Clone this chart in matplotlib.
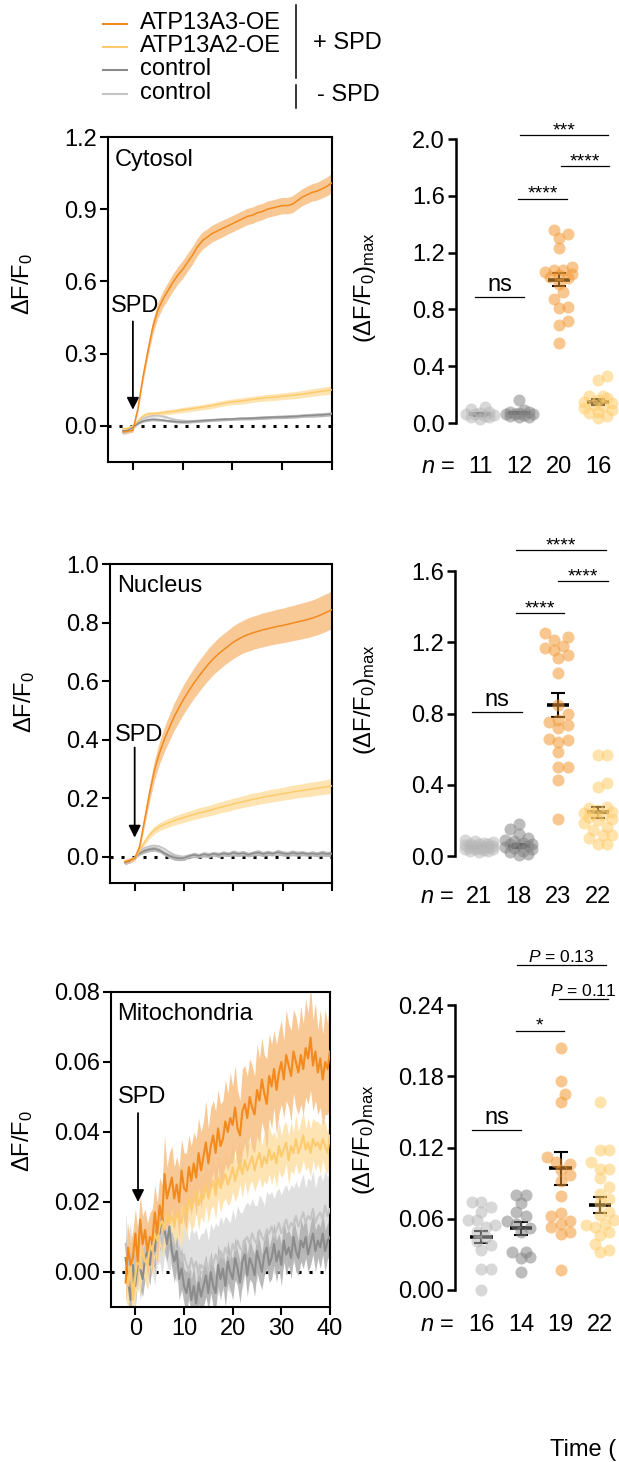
import numpy as np
import matplotlib
matplotlib.use("Agg")
import matplotlib.pyplot as plt
from matplotlib.ticker import FormatStrFormatter
from matplotlib.transforms import blended_transform_factory

plt.rcParams['font.family'] = ['Liberation Sans', 'DejaVu Sans']
plt.rcParams['mathtext.fontset'] = 'custom'
plt.rcParams['mathtext.rm'] = 'Liberation Sans'
plt.rcParams['mathtext.it'] = 'Liberation Sans:italic'
plt.rcParams['font.size'] = 17

# ---------------------------------------------------------------- data
labels = ['ATP13A3-OE', 'ATP13A2-OE', 'control', 'control']

# time courses, cytosol and nucleus sampled every 1 (t = -2 .. 40)
cyto_a3 = [-0.025, -0.022, -0.018, 0.07, 0.20, 0.31, 0.41, 0.48, 0.525, 0.56,
           0.595, 0.625, 0.65, 0.68, 0.71, 0.745, 0.77, 0.785, 0.80, 0.81,
           0.82, 0.83, 0.84, 0.85, 0.86, 0.87, 0.875, 0.885, 0.89, 0.90,
           0.905, 0.91, 0.915, 0.915, 0.92, 0.935, 0.95, 0.96, 0.97, 0.975,
           0.985, 0.995, 1.01]
cyto_a3_sem = [0.008, 0.008, 0.008, 0.012, 0.020, 0.025, 0.030, 0.032, 0.034, 0.035,
               0.036, 0.036, 0.037, 0.037, 0.037, 0.036, 0.036, 0.035, 0.035, 0.035,
               0.035, 0.034, 0.034, 0.034, 0.034, 0.034, 0.034, 0.034, 0.034, 0.034,
               0.034, 0.034, 0.034, 0.034, 0.035, 0.035, 0.035, 0.036, 0.036, 0.037,
               0.038, 0.039, 0.040]
cyto_a2 = [-0.012, -0.010, 0.000, 0.020, 0.040, 0.050, 0.050, 0.052, 0.055, 0.057,
           0.060, 0.063, 0.066, 0.069, 0.072, 0.075, 0.078, 0.081, 0.085, 0.089,
           0.093, 0.097, 0.100, 0.102, 0.104, 0.107, 0.110, 0.113, 0.115, 0.117,
           0.119, 0.121, 0.123, 0.125, 0.127, 0.129, 0.132, 0.135, 0.138, 0.141,
           0.144, 0.147, 0.150]
cyto_a2_sem = [0.006, 0.006, 0.006, 0.007, 0.008, 0.009, 0.009, 0.009, 0.010, 0.010,
               0.010, 0.010, 0.011, 0.011, 0.011, 0.011, 0.011, 0.012, 0.012, 0.012,
               0.012, 0.012, 0.012, 0.013, 0.013, 0.013, 0.013, 0.013, 0.013, 0.014,
               0.014, 0.014, 0.014, 0.014, 0.015, 0.015, 0.015, 0.015, 0.016, 0.016,
               0.016, 0.017, 0.017]
cyto_ctl = [-0.020, -0.018, -0.005, 0.010, 0.020, 0.025, 0.027, 0.026, 0.024, 0.021,
            0.019, 0.017, 0.016, 0.017, 0.019, 0.020, 0.022, 0.023, 0.025, 0.026,
            0.027, 0.028, 0.029, 0.030, 0.031, 0.031, 0.032, 0.033, 0.034, 0.035,
            0.036, 0.037, 0.037, 0.038, 0.039, 0.040, 0.042, 0.043, 0.044, 0.045,
            0.046, 0.048, 0.049]
cyto_ctl_sem = [0.006, 0.006, 0.005, 0.005, 0.005, 0.006, 0.006, 0.006, 0.005, 0.005,
                0.005, 0.005, 0.005, 0.006, 0.006, 0.006, 0.006, 0.006, 0.006, 0.006,
                0.006, 0.006, 0.006, 0.006, 0.006, 0.006, 0.007, 0.007, 0.007, 0.007,
                0.007, 0.007, 0.007, 0.007, 0.007, 0.007, 0.007, 0.007, 0.008, 0.008,
                0.008, 0.008, 0.008]
cyto_ctl0 = [-0.030, -0.025, -0.006, 0.015, 0.030, 0.038, 0.042, 0.043, 0.040, 0.034,
             0.028, 0.024, 0.022, 0.021, 0.021, 0.022, 0.023, 0.024, 0.025, 0.026,
             0.027, 0.028, 0.029, 0.030, 0.031, 0.032, 0.033, 0.034, 0.035, 0.036,
             0.037, 0.038, 0.039, 0.040, 0.041, 0.042, 0.043, 0.045, 0.046, 0.047,
             0.048, 0.050, 0.052]
cyto_ctl0_sem = [0.007, 0.007, 0.006, 0.006, 0.006, 0.006, 0.006, 0.006, 0.006, 0.006,
                 0.006, 0.006, 0.006, 0.006, 0.006, 0.006, 0.006, 0.006, 0.006, 0.006,
                 0.006, 0.006, 0.006, 0.006, 0.006, 0.006, 0.006, 0.006, 0.006, 0.006,
                 0.006, 0.006, 0.006, 0.006, 0.007, 0.007, 0.007, 0.007, 0.007, 0.007,
                 0.007, 0.007, 0.007]

nuc_a3 = [-0.018, -0.012, -0.006, 0.034, 0.125, 0.215, 0.295, 0.353, 0.400, 0.440,
          0.478, 0.510, 0.540, 0.567, 0.593, 0.616, 0.638, 0.659, 0.677, 0.693,
          0.707, 0.720, 0.733, 0.743, 0.752, 0.759, 0.765, 0.770, 0.775, 0.779,
          0.783, 0.787, 0.790, 0.794, 0.798, 0.802, 0.806, 0.810, 0.815, 0.821,
          0.828, 0.836, 0.844]
nuc_a3_sem = [0.008, 0.008, 0.008, 0.012, 0.020, 0.028, 0.034, 0.038, 0.042, 0.045,
              0.047, 0.049, 0.050, 0.051, 0.052, 0.053, 0.053, 0.054, 0.054, 0.055,
              0.055, 0.055, 0.056, 0.056, 0.056, 0.057, 0.057, 0.057, 0.058, 0.058,
              0.058, 0.059, 0.059, 0.060, 0.060, 0.061, 0.061, 0.062, 0.062, 0.063,
              0.064, 0.064, 0.065]
nuc_a2 = [-0.015, -0.012, -0.005, 0.020, 0.050, 0.074, 0.091, 0.102, 0.110, 0.117,
          0.123, 0.129, 0.134, 0.139, 0.144, 0.149, 0.153, 0.157, 0.162, 0.167,
          0.171, 0.175, 0.180, 0.184, 0.188, 0.192, 0.196, 0.199, 0.203, 0.206,
          0.209, 0.212, 0.215, 0.218, 0.221, 0.224, 0.226, 0.229, 0.231, 0.234,
          0.236, 0.239, 0.242]
nuc_a2_sem = [0.006, 0.006, 0.006, 0.008, 0.010, 0.012, 0.013, 0.014, 0.015, 0.015,
              0.016, 0.016, 0.017, 0.017, 0.017, 0.018, 0.018, 0.018, 0.019, 0.019,
              0.019, 0.020, 0.020, 0.020, 0.020, 0.021, 0.021, 0.021, 0.021, 0.022,
              0.022, 0.022, 0.022, 0.023, 0.023, 0.023, 0.023, 0.024, 0.024, 0.024,
              0.024, 0.025, 0.025]
nuc_ctl = [-0.020, -0.015, -0.003, 0.012, 0.020, 0.025, 0.027, 0.022, 0.012, 0.003,
           -0.003, -0.006, -0.004, 0.002, 0.006, 0.003, 0.008, 0.005, 0.010, 0.006,
           0.011, 0.008, 0.013, 0.009, 0.012, 0.007, 0.011, 0.014, 0.009, 0.013,
           0.010, 0.015, 0.011, 0.009, 0.013, 0.010, 0.012, 0.009, 0.011, 0.008,
           0.012, 0.009, 0.011]
nuc_ctl_sem = [0.007, 0.007, 0.007, 0.007, 0.008, 0.008, 0.008, 0.008, 0.008, 0.008,
               0.009, 0.008, 0.009, 0.008, 0.009, 0.008, 0.009, 0.009, 0.008, 0.009,
               0.009, 0.008, 0.010, 0.009, 0.009, 0.008, 0.009, 0.010, 0.009, 0.009,
               0.008, 0.010, 0.009, 0.009, 0.010, 0.009, 0.009, 0.008, 0.009, 0.009,
               0.010, 0.009, 0.009]
nuc_ctl0 = [-0.022, -0.015, -0.002, 0.018, 0.030, 0.036, 0.038, 0.035, 0.027, 0.016,
            0.007, 0.002, 0.000, 0.001, 0.002, 0.004, 0.005, 0.006, 0.006, 0.007,
            0.006, 0.007, 0.008, 0.007, 0.008, 0.009, 0.008, 0.009, 0.008, 0.009,
            0.010, 0.009, 0.010, 0.009, 0.010, 0.011, 0.010, 0.009, 0.010, 0.011,
            0.010, 0.011, 0.010]
nuc_ctl0_sem = [0.006, 0.006, 0.005, 0.005, 0.005, 0.005, 0.005, 0.005, 0.005, 0.005,
                0.005, 0.005, 0.005, 0.005, 0.005, 0.005, 0.005, 0.005, 0.005, 0.005,
                0.005, 0.005, 0.005, 0.005, 0.005, 0.005, 0.005, 0.005, 0.005, 0.005,
                0.005, 0.005, 0.005, 0.005, 0.005, 0.005, 0.005, 0.005, 0.005, 0.005,
                0.005, 0.005, 0.005]

# mitochondria sampled every 0.5 (t = -2 .. 40)
mito_a3 = [-0.003, 0.007, 0.002, 0.004, 0.011, 0.003, 0.015, 0.008, 0.012, 0.006,
           0.010, 0.009, 0.017, 0.011, 0.019, 0.015, 0.028, 0.021, 0.024, 0.027,
           0.021, 0.025, 0.020, 0.029, 0.024, 0.023, 0.030, 0.026, 0.031, 0.027,
           0.034, 0.029, 0.033, 0.037, 0.031, 0.036, 0.039, 0.034, 0.041, 0.036,
           0.038, 0.043, 0.040, 0.044, 0.042, 0.047, 0.041, 0.039, 0.046, 0.048,
           0.044, 0.050, 0.047, 0.045, 0.052, 0.049, 0.055, 0.051, 0.048, 0.056,
           0.053, 0.058, 0.052, 0.057, 0.060, 0.055, 0.062, 0.059, 0.056, 0.063,
           0.060, 0.057, 0.062, 0.058, 0.064, 0.061, 0.067, 0.059, 0.063, 0.057,
           0.061, 0.055, 0.060, 0.058, 0.063]
mito_a3_sem = [0.006, 0.007, 0.006, 0.008, 0.007, 0.009, 0.007, 0.008, 0.006, 0.008,
               0.007, 0.009, 0.008, 0.009, 0.008, 0.010, 0.011, 0.009, 0.010, 0.009,
               0.009, 0.008, 0.010, 0.009, 0.010, 0.011, 0.009, 0.010, 0.009, 0.011,
               0.010, 0.011, 0.010, 0.012, 0.010, 0.011, 0.010, 0.012, 0.011, 0.012,
               0.011, 0.012, 0.011, 0.013, 0.011, 0.012, 0.011, 0.010, 0.012, 0.011,
               0.012, 0.011, 0.012, 0.011, 0.013, 0.012, 0.012, 0.011, 0.013, 0.012,
               0.012, 0.011, 0.013, 0.012, 0.012, 0.011, 0.013, 0.012, 0.013, 0.012,
               0.013, 0.012, 0.014, 0.013, 0.014, 0.013, 0.015, 0.013, 0.014, 0.012,
               0.014, 0.013, 0.015, 0.013, 0.016]
mito_a2 = [0.001, -0.004, 0.003, -0.008, -0.001, 0.004, 0.001, 0.006, 0.003, 0.002,
           0.008, 0.006, 0.011, 0.009, 0.013, 0.015, 0.012, 0.017, 0.014, 0.016,
           0.013, 0.017, 0.015, 0.014, 0.019, 0.016, 0.021, 0.018, 0.020, 0.023,
           0.019, 0.022, 0.021, 0.025, 0.021, 0.024, 0.026, 0.022, 0.027, 0.024,
           0.026, 0.028, 0.025, 0.027, 0.030, 0.026, 0.029, 0.031, 0.028, 0.032,
           0.029, 0.031, 0.033, 0.029, 0.032, 0.034, 0.030, 0.033, 0.031, 0.035,
           0.032, 0.034, 0.031, 0.036, 0.033, 0.035, 0.037, 0.032, 0.036, 0.034,
           0.038, 0.034, 0.036, 0.039, 0.035, 0.037, 0.034, 0.038, 0.036, 0.037,
           0.035, 0.038, 0.036, 0.034, 0.039]
mito_a2_sem = [0.008, 0.007, 0.008, 0.009, 0.007, 0.006, 0.007, 0.006, 0.006, 0.007,
               0.006, 0.007, 0.006, 0.007, 0.006, 0.007, 0.006, 0.007, 0.006, 0.007,
               0.006, 0.007, 0.006, 0.007, 0.006, 0.007, 0.006, 0.006, 0.007, 0.006,
               0.007, 0.006, 0.007, 0.006, 0.007, 0.006, 0.007, 0.007, 0.006, 0.007,
               0.006, 0.007, 0.006, 0.007, 0.007, 0.006, 0.007, 0.006, 0.007, 0.006,
               0.007, 0.006, 0.007, 0.006, 0.007, 0.007, 0.006, 0.007, 0.006, 0.007,
               0.007, 0.006, 0.007, 0.007, 0.006, 0.007, 0.006, 0.007, 0.007, 0.006,
               0.007, 0.006, 0.007, 0.007, 0.006, 0.007, 0.007, 0.006, 0.007, 0.006,
               0.007, 0.006, 0.007, 0.006, 0.007]
mito_ctl = [0.004, -0.002, -0.008, 0.002, -0.004, 0.003, 0.001, -0.002, 0.004, 0.006,
            0.002, 0.009, 0.006, 0.014, 0.011, 0.016, 0.012, 0.008, 0.013, 0.006,
            0.003, 0.006, -0.002, 0.001, -0.004, -0.006, -0.002, -0.008, -0.004, -0.009,
            -0.003, -0.007, -0.004, -0.001, -0.006, 0.000, -0.004, -0.006, 0.002, -0.002,
            0.001, -0.004, 0.003, 0.000, -0.002, 0.004, 0.001, -0.003, 0.003, 0.005,
            -0.001, 0.004, 0.002, -0.001, 0.006, 0.003, 0.000, 0.005, 0.007, 0.002,
            0.004, 0.008, 0.003, 0.006, 0.002, 0.009, 0.005, 0.007, 0.004, 0.010,
            0.006, 0.004, 0.009, 0.007, 0.010, 0.005, 0.008, 0.011, 0.006, 0.009,
            0.007, 0.011, 0.006, 0.009, 0.010]
mito_ctl_sem = [0.007, 0.006, 0.007, 0.006, 0.006, 0.005, 0.006, 0.005, 0.006, 0.005,
                0.006, 0.005, 0.006, 0.006, 0.005, 0.006, 0.006, 0.005, 0.006, 0.005,
                0.006, 0.005, 0.006, 0.006, 0.005, 0.006, 0.005, 0.006, 0.006, 0.005,
                0.006, 0.005, 0.006, 0.006, 0.005, 0.006, 0.006, 0.005, 0.006, 0.006,
                0.005, 0.006, 0.006, 0.005, 0.006, 0.006, 0.005, 0.006, 0.006, 0.005,
                0.006, 0.006, 0.005, 0.006, 0.006, 0.006, 0.005, 0.006, 0.006, 0.005,
                0.006, 0.006, 0.006, 0.005, 0.006, 0.006, 0.006, 0.005, 0.006, 0.006,
                0.006, 0.005, 0.006, 0.006, 0.006, 0.005, 0.006, 0.006, 0.006, 0.005,
                0.006, 0.006, 0.006, 0.005, 0.006]
mito_ctl0 = [0.008, 0.002, 0.005, -0.003, 0.004, 0.006, 0.001, 0.003, 0.007, 0.004,
             0.006, 0.009, 0.005, 0.010, 0.012, 0.008, 0.013, 0.011, 0.009, 0.011,
             0.008, 0.006, 0.007, 0.003, 0.005, 0.002, 0.000, 0.004, 0.001, 0.003,
             -0.001, 0.002, 0.001, 0.003, 0.000, 0.004, 0.002, 0.005, 0.003, 0.006,
             0.004, 0.007, 0.005, 0.004, 0.008, 0.006, 0.009, 0.007, 0.006, 0.009,
             0.010, 0.008, 0.011, 0.009, 0.008, 0.012, 0.010, 0.009, 0.012, 0.011,
             0.013, 0.010, 0.012, 0.014, 0.011, 0.013, 0.015, 0.012, 0.014, 0.013,
             0.016, 0.013, 0.015, 0.017, 0.014, 0.016, 0.015, 0.018, 0.014, 0.016,
             0.017, 0.015, 0.019, 0.016, 0.018]
mito_ctl0_sem = [0.009, 0.008, 0.009, 0.008, 0.009, 0.008, 0.009, 0.008, 0.009, 0.009,
                 0.008, 0.009, 0.009, 0.008, 0.009, 0.009, 0.008, 0.009, 0.009, 0.008,
                 0.009, 0.009, 0.008, 0.009, 0.009, 0.010, 0.009, 0.009, 0.010, 0.009,
                 0.010, 0.009, 0.010, 0.010, 0.009, 0.010, 0.010, 0.009, 0.010, 0.010,
                 0.010, 0.009, 0.010, 0.010, 0.010, 0.009, 0.010, 0.010, 0.011, 0.010,
                 0.010, 0.011, 0.010, 0.010, 0.011, 0.010, 0.011, 0.010, 0.011, 0.011,
                 0.010, 0.011, 0.011, 0.010, 0.011, 0.011, 0.010, 0.011, 0.011, 0.011,
                 0.010, 0.011, 0.011, 0.011, 0.010, 0.011, 0.011, 0.011, 0.010, 0.011,
                 0.011, 0.011, 0.010, 0.011, 0.011]

# peak responses, groups: control -SPD, control +SPD, ATP13A3-OE, ATP13A2-OE
cyto_pts = [
    [0.11, 0.10, 0.08, 0.07, 0.065, 0.06, 0.055, 0.05, 0.045, 0.04, 0.025],
    [0.16, 0.09, 0.08, 0.075, 0.07, 0.065, 0.06, 0.06, 0.055, 0.05, 0.045, 0.04],
    [1.36, 1.33, 1.30, 1.23, 1.10, 1.08, 1.08, 1.06, 1.05, 1.04, 1.03, 1.02,
     0.98, 0.92, 0.87, 0.82, 0.81, 0.72, 0.69, 0.56],
    [0.33, 0.305, 0.19, 0.19, 0.175, 0.165, 0.15, 0.14, 0.13, 0.12, 0.105,
     0.095, 0.08, 0.07, 0.05, 0.035],
]
cyto_mean = [0.06, 0.07, 1.01, 0.15]
cyto_sem = [0.008, 0.01, 0.045, 0.022]
cyto_n = [11, 12, 20, 16]

nuc_pts = [
    [0.09, 0.085, 0.08, 0.075, 0.07, 0.068, 0.065, 0.06, 0.058, 0.055, 0.052,
     0.05, 0.048, 0.045, 0.042, 0.04, 0.037, 0.034, 0.03, 0.026, 0.022],
    [0.18, 0.15, 0.125, 0.10, 0.09, 0.085, 0.075, 0.07, 0.065, 0.06, 0.055,
     0.05, 0.045, 0.04, 0.03, 0.02, 0.01, 0.005],
    [1.25, 1.23, 1.21, 1.18, 1.165, 1.155, 1.13, 1.11, 1.025, 0.848, 0.80,
     0.764, 0.75, 0.735, 0.717, 0.655, 0.65, 0.642, 0.586, 0.50, 0.498, 0.427, 0.21],
    [0.567, 0.567, 0.408, 0.39, 0.277, 0.268, 0.258, 0.249, 0.24, 0.24, 0.23,
     0.22, 0.21, 0.20, 0.183, 0.165, 0.146, 0.118, 0.118, 0.10, 0.07, 0.07],
]
nuc_mean = [0.05, 0.055, 0.85, 0.245]
nuc_sem = [0.005, 0.01, 0.067, 0.03]
nuc_n = [21, 18, 23, 22]

mito_pts = [
    [0.0744, 0.0744, 0.070, 0.066, 0.059, 0.059, 0.055, 0.053, 0.049, 0.045,
     0.041, 0.038, 0.034, 0.0174, 0.0174, 0.0],
    [0.080, 0.080, 0.073, 0.066, 0.062, 0.058, 0.056, 0.052, 0.049, 0.032,
     0.032, 0.028, 0.027, 0.0154],
    [0.204, 0.176, 0.165, 0.158, 0.112, 0.108, 0.106, 0.101, 0.097, 0.092,
     0.079, 0.065, 0.062, 0.058, 0.056, 0.053, 0.049, 0.047, 0.017],
    [0.158, 0.118, 0.118, 0.108, 0.102, 0.102, 0.094, 0.087, 0.081, 0.077,
     0.073, 0.066, 0.063, 0.059, 0.056, 0.055, 0.053, 0.049, 0.046, 0.039,
     0.034, 0.032],
]
mito_mean = [0.045, 0.052, 0.1025, 0.0716]
mito_sem = [0.005, 0.0056, 0.014, 0.0068]
mito_n = [16, 14, 19, 22]

# ---------------------------------------------------------------- style
W, H = 619, 1462
line_c = ['#F28A1E', '#FDCB6E', '#8C8C8C', '#C4C4C4']
fill_c = ['#F8C28A', '#FDE2AA', '#B2B2B2', '#DDDDDD']
dot_c = ['#B8B8B8', '#858585', '#F39A35', '#FFCC6A']


def px_rect(left, top, right, bottom):
    return [left / W, 1 - bottom / H, (right - left) / W, (bottom - top) / H]


def trace_panel(fig, rect, t, series, sems, ylim, yticks, fmt, title,
                spd_xy, arrow, xlabels, lw, ylab_xy):
    ax = fig.add_axes(px_rect(*rect))
    ax.axhline(0, color='k', ls=(0, (1, 2.6)), lw=2.2, zorder=1)
    # draw controls first, ATP13A3 on top
    for k in [3, 2, 1, 0]:
        m = np.array(series[k])
        s = np.array(sems[k])
        ax.fill_between(t, m - s, m + s, color=fill_c[k], lw=0, alpha=0.9,
                        zorder=2)
        ax.plot(t, m, color=line_c[k], lw=lw, zorder=3)
    ax.set_xlim(-5, 40)
    ax.set_ylim(*ylim)
    ax.set_xticks([0, 10, 20, 30, 40])
    ax.set_yticks(yticks)
    ax.yaxis.set_major_formatter(FormatStrFormatter(fmt))
    ax.tick_params(length=6, width=1.5, pad=2, labelsize=17,
                   labelbottom=xlabels)
    for sp in ax.spines.values():
        sp.set_linewidth(1.5)
    ax.text(0.03, 0.93, title, transform=ax.transAxes, fontsize=17,
            va='center', ha='left')
    ax.text(spd_xy[0], spd_xy[1], 'SPD', fontsize=17, ha='center',
            va='center')
    ax.annotate('', xy=(arrow[0], arrow[2]), xytext=(arrow[0], arrow[1]),
                arrowprops=dict(arrowstyle='-|>', color='k', lw=1.3,
                                mutation_scale=18, shrinkA=0, shrinkB=0))
    ax.set_ylabel('ΔF/F$_0$', fontsize=17)
    ax.yaxis.set_label_coords(*ylab_xy)
    return ax


def swarm_x(ax, x0, vals, diam):
    # compact, overlapping beeswarm computed in pixel space
    tr = ax.transData
    ys = tr.transform(np.column_stack([np.full(len(vals), x0), vals]))[:, 1]
    xscale = tr.transform((1, 0))[0] - tr.transform((0, 0))[0]
    cands = [0.0]
    for k in range(1, 4):
        cands += [k * diam * 0.38, -k * diam * 0.38]
    placed = []
    offs = np.zeros(len(vals))
    for i in np.argsort(ys):
        best, best_d = 0.0, -1
        for c in cands:
            d = min([np.hypot(c - px, ys[i] - py) for px, py in placed] or [1e9])
            if d >= 0.75 * diam:
                best = c
                break
            if d > best_d:
                best, best_d = c, d
        placed.append((best, ys[i]))
        offs[i] = best
    return x0 + offs / xscale


def dot_panel(fig, rect, pts, means, sems, ns, ylim, yticks, fmt, xlim,
              sigs, n_y, ylab_xy):
    ax = fig.add_axes(px_rect(*rect))
    ax.set_xlim(*xlim)
    ax.set_ylim(*ylim)
    groups = [1, 2, 3, 4]
    for g, m, s in zip(groups, means, sems):
        ax.plot([g - 0.28, g + 0.28], [m, m], color='k', lw=2.6, zorder=2,
                solid_capstyle='butt')
        ax.errorbar(g, m, yerr=s, fmt='none', ecolor='k', elinewidth=1.5,
                    capsize=5, capthick=1.5, zorder=2)
    for g, vals, c in zip(groups, pts, dot_c):
        xs = swarm_x(ax, g, vals, 12)
        ax.scatter(xs, vals, s=75, color=c, alpha=0.55, lw=0, zorder=3,
                   clip_on=False)
    for x1, x2, y, txt, fs, dy in sigs:
        ax.plot([x1, x2], [y, y], color='k', lw=0.9, clip_on=False)
        ax.annotate(txt, ((x1 + x2) / 2, y), xytext=(0, dy),
                    textcoords='offset points', ha='center', va='baseline',
                    fontsize=fs, annotation_clip=False)
    ax.set_yticks(yticks)
    ax.yaxis.set_major_formatter(FormatStrFormatter(fmt))
    ax.set_xticks([])
    for side in ['top', 'right', 'bottom']:
        ax.spines[side].set_visible(False)
    ax.spines['left'].set_linewidth(1.8)
    ax.tick_params(axis='y', length=6, width=1.8, pad=2, labelsize=17)
    tr = blended_transform_factory(ax.transData, ax.transAxes)
    ax.text(xlim[0] - 0.02, n_y, '$n$ =', transform=tr, ha='right',
            va='center', fontsize=17)
    for g, n in zip(groups, ns):
        ax.text(g, n_y, str(n), transform=tr, ha='center', va='center',
                fontsize=17)
    ax.set_ylabel('(ΔF/F$_0$)$_{\\rm max}$', fontsize=17)
    ax.yaxis.set_label_coords(*ylab_xy)
    return ax


fig = plt.figure(figsize=(W / 100, H / 100), dpi=100)

t1 = np.arange(-2, 41, 1)
t05 = np.arange(-2, 40.5, 0.5)

trace_panel(fig, (108, 137, 332, 462), t1,
            [cyto_a3, cyto_a2, cyto_ctl, cyto_ctl0],
            [cyto_a3_sem, cyto_a2_sem, cyto_ctl_sem, cyto_ctl0_sem],
            (-0.15, 1.2), [0.0, 0.3, 0.6, 0.9, 1.2], '%.1f', 'Cytosol',
            (0.4, 0.5), (0, 0.434, 0.067), False, 1.1, (-0.326, 0.548))
trace_panel(fig, (110, 564, 332, 883), t1,
            [nuc_a3, nuc_a2, nuc_ctl, nuc_ctl0],
            [nuc_a3_sem, nuc_a2_sem, nuc_ctl_sem, nuc_ctl0_sem],
            (-0.09, 1.0), [0.0, 0.2, 0.4, 0.6, 0.8, 1.0], '%.1f', 'Nucleus',
            (0.8, 0.417), (0, 0.373, 0.065), False, 1.1, (-0.329, 0.567))
trace_panel(fig, (111, 992, 330, 1307), t05,
            [mito_a3, mito_a2, mito_ctl, mito_ctl0],
            [mito_a3_sem, mito_a2_sem, mito_ctl_sem, mito_ctl0_sem],
            (-0.01, 0.08), [0.0, 0.02, 0.04, 0.06, 0.08], '%.2f',
            'Mitochondria', (1.4, 0.05), (0.55, 0.0454, 0.020), True, 1.5,
            (-0.347, 0.527))

dot_panel(fig, (456, 139, 619, 423), cyto_pts, cyto_mean, cyto_sem, cyto_n,
          (0, 2.0), [0.0, 0.4, 0.8, 1.2, 1.6, 2.0], '%.1f', (0.39, 4.53),
          [(0.87, 2.12, 0.89, 'ns', 17, 4),
           (1.97, 3.21, 1.58, '****', 14, 0),
           (2.02, 4.26, 2.026, '***', 14, 0),
           (3.06, 4.28, 1.807, '****', 14, 0)],
          -0.155, (-0.479, 0.475))
dot_panel(fig, (455, 571, 619, 856), nuc_pts, nuc_mean, nuc_sem, nuc_n,
          (0, 1.6), [0.0, 0.4, 0.8, 1.2, 1.6], '%.1f', (0.39, 4.53),
          [(0.82, 2.07, 0.81, 'ns', 17, 4),
           (1.92, 3.14, 1.362, '****', 14, 0),
           (1.94, 4.20, 1.718, '****', 14, 0),
           (2.99, 4.26, 1.544, '****', 14, 0)],
          -0.144, (-0.47, 0.547))
dot_panel(fig, (455, 1005, 619, 1290), mito_pts, mito_mean, mito_sem, mito_n,
          (0, 0.24), [0.0, 0.06, 0.12, 0.18, 0.24], '%.2f', (0.33, 4.48),
          [(0.77, 2.00, 0.1347, 'ns', 17, 4),
           (1.87, 3.09, 0.2184, '*', 14, 0),
           (1.89, 4.15, 0.2737, '$P$ = 0.13', 12.5, 2),
           (2.96, 4.20, 0.245, '$P$ = 0.11', 12.5, 2)],
          -0.123, (-0.476, 0.526))

# legend block and stray label, placed in pixel space
lg = fig.add_axes([0, 0, 1, 1])
lg.set_xlim(0, W)
lg.set_ylim(H, 0)
lg.axis('off')
for k, y in enumerate([24, 47, 70, 94]):
    lg.plot([103, 127], [y, y], color=line_c[k], lw=1.5)
    lg.text(140, y - 1, labels[k], fontsize=17, va='center', ha='left')
lg.plot([296, 296], [5, 78], color='k', lw=1.1)
lg.plot([296, 296], [85, 108], color='k', lw=1.1)
lg.text(313, 43, '+ SPD', fontsize=17, va='center', ha='left')
lg.text(317, 95, '- SPD', fontsize=17, va='center', ha='left')
lg.text(616, 1450, 'Time (', fontsize=17, va='center', ha='right')

fig.savefig('out.png', dpi=100)
